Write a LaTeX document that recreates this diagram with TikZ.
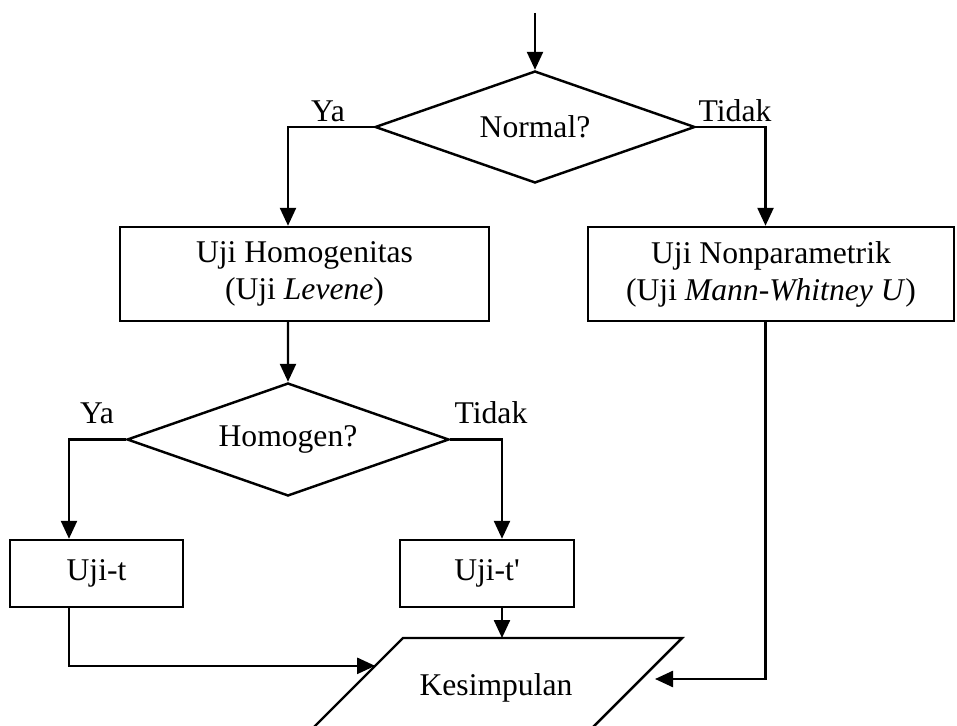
\documentclass[tikz,border=0pt]{standalone}
\usepackage{fontspec}
\setmainfont{Liberation Serif}
\usetikzlibrary{arrows.meta,positioning,shapes.geometric,calc}

\begin{document}
\begin{tikzpicture}[
  x=0.02cm, y=-0.02cm,
  font=\fontsize{18}{21}\selectfont,
  line width=1.4pt,
  box/.style={draw,rectangle,align=center,inner sep=0pt},
  decision/.style={draw,diamond,aspect=3,inner sep=0pt},
  lbl/.style={anchor=base,inner sep=0pt},
  arrow/.style={-{Triangle[length=3.6mm,width=3.2mm]}}
]
  \useasboundingbox (0,0) rectangle (957,726);
  \clip (0,0) rectangle (957,726);

  \coordinate (start) at (535,13);
  \node[decision, minimum width=6.4cm, minimum height=2.24cm] (normal) at (535,127) {Normal?};

  \node[box, minimum width=7.38cm, minimum height=1.88cm] (homog) at (304.5,274) {Uji Homogenitas\\(Uji \textit{Levene})};
  \node[box, minimum width=7.32cm, minimum height=1.88cm] (nonpar) at (771,274) {Uji Nonparametrik\\(Uji \textit{Mann-Whitney U})};

  \node[decision, minimum width=6.44cm, minimum height=2.26cm] (homogen) at (288,439.5) {Homogen?};

  \node[box, minimum width=3.46cm, minimum height=1.34cm] (ujit) at (96.5,573.5) {Uji-t};
  \node[box, minimum width=3.48cm, minimum height=1.34cm] (ujitp) at (487,573.5) {Uji-t\textquotesingle};

  % parallelogram, its lower edge falls outside the page
  \coordinate (kTL) at (403,638);
  \coordinate (kTR) at (682,638);
  \coordinate (kBR) at (586,734);
  \coordinate (kBL) at (307,734);
  \draw (kTL) -- (kTR) -- (kBR) -- (kBL) -- cycle;
  \node[lbl] (kes) at (496,695) {Kesimpulan};
  \coordinate (kL) at ($(kTL)!0.29!(kBL)$);
  \coordinate (kR) at (655,679);

  \node[lbl] (ya1) at (328,122) {Ya};
  \node[lbl] (tidak1) at (735,122) {Tidak};
  \node[lbl] (ya2) at (97,423) {Ya};
  \node[lbl] (tidak2) at (491,423) {Tidak};

  \draw[arrow] (start) -- (normal.north);
  \draw[arrow] (normal.west) -| ([xshift=-0.33cm]homog.north);
  \draw[arrow] (normal.east) -| ([xshift=-0.11cm]nonpar.north);
  \draw[arrow] ([xshift=-0.33cm]homog.south) -- (homogen.north);
  \draw[arrow] (homogen.west) -| ([xshift=-0.55cm]ujit.north);
  \draw[arrow] (homogen.east) -| ([xshift=0.3cm]ujitp.north);
  \draw[arrow] ([xshift=-0.55cm]ujit.south) |- (kL);
  \draw[arrow] ([xshift=0.3cm]ujitp.south) coordinate (up) -- (up |- kTL);
  \draw[arrow] ([xshift=-0.11cm]nonpar.south) |- (kR);
\end{tikzpicture}
\end{document}
